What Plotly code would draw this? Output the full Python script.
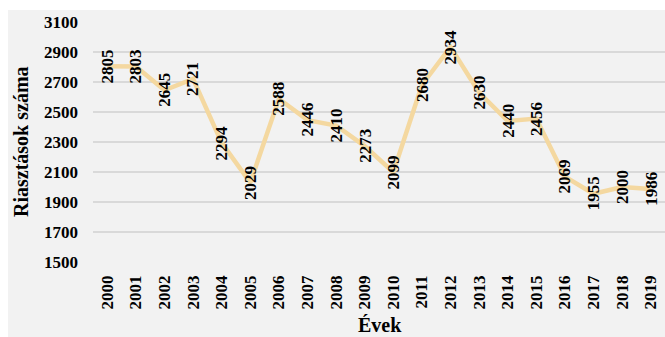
import plotly.graph_objects as go

years = [str(y) for y in range(2000, 2020)]
values = [2805, 2803, 2645, 2721, 2294, 2029, 2588, 2446, 2410, 2273,
          2099, 2680, 2934, 2630, 2440, 2456, 2069, 1955, 2000, 1986]
y_ticks = [1500, 1700, 1900, 2100, 2300, 2500, 2700, 2900, 3100]

FONT = "Liberation Serif"
W, H = 665, 337
ml, mr, mt, mb = 93, 0, 22, 75
pw, ph = W - ml - mr, H - mt - mb

fig = go.Figure()
fig.add_trace(go.Scatter(
    x=list(range(len(years))), y=values, mode="lines",
    line=dict(color="#f4d8a0", width=4.5),
    hoverinfo="skip", showlegend=False,
))

for i, v in enumerate(values):
    fig.add_annotation(
        x=i, y=v, text=str(v), textangle=-90, showarrow=False,
        xanchor="center", yanchor="middle",
        font=dict(family=FONT, size=17, color="black", weight="bold"),
    )

# axis titles
fig.add_annotation(
    xref="paper", yref="paper", x=(380 - ml) / pw, y=(H - mb - 325) / ph,
    text="Évek", showarrow=False, xanchor="center", yanchor="middle",
    font=dict(family=FONT, size=20, color="black", weight="bold"),
)
fig.add_annotation(
    xref="paper", yref="paper", x=(21 - ml) / pw, y=0.5,
    text="Riasztások száma", textangle=-90, showarrow=False,
    xanchor="center", yanchor="middle",
    font=dict(family=FONT, size=20, color="black", weight="bold"),
)

# white strips outside the grey chart area
fig.add_shape(type="rect", xref="paper", yref="paper",
              x0=(0 - ml) / pw, x1=(W - ml) / pw,
              y0=(H - mb - 10) / ph, y1=(H - mb) / ph + 0.1,
              fillcolor="white", line_width=0, layer="below")
fig.add_shape(type="rect", xref="paper", yref="paper",
              x0=(0 - ml) / pw - 0.1, x1=(8 - ml) / pw,
              y0=-mb / ph - 0.1, y1=(H - mb) / ph + 0.1,
              fillcolor="white", line_width=0, layer="below")

fig.update_layout(
    width=W, height=H,
    margin=dict(l=ml, r=mr, t=mt, b=mb),
    paper_bgcolor="#f2f2f2", plot_bgcolor="#f2f2f2",
    font=dict(family=FONT, color="black"),
    xaxis=dict(
        range=[-0.5, 19.5], tickangle=-90,
        tickvals=list(range(len(years))), ticktext=years,
        showgrid=False, zeroline=False, showline=False, ticks="",
        ticklabelstandoff=9,
        tickfont=dict(family=FONT, size=17, color="black", weight="bold"),
    ),
    yaxis=dict(
        range=[1500, 3100], tickvals=y_ticks, ticktext=[str(t) for t in y_ticks],
        showgrid=True, gridcolor="#d9d9d9", gridwidth=1.5,
        zeroline=False, showline=False, ticks="",
        ticklabelstandoff=14,
        tickfont=dict(family=FONT, size=17, color="black", weight="bold"),
    ),
)

fig.write_html("out.html")
